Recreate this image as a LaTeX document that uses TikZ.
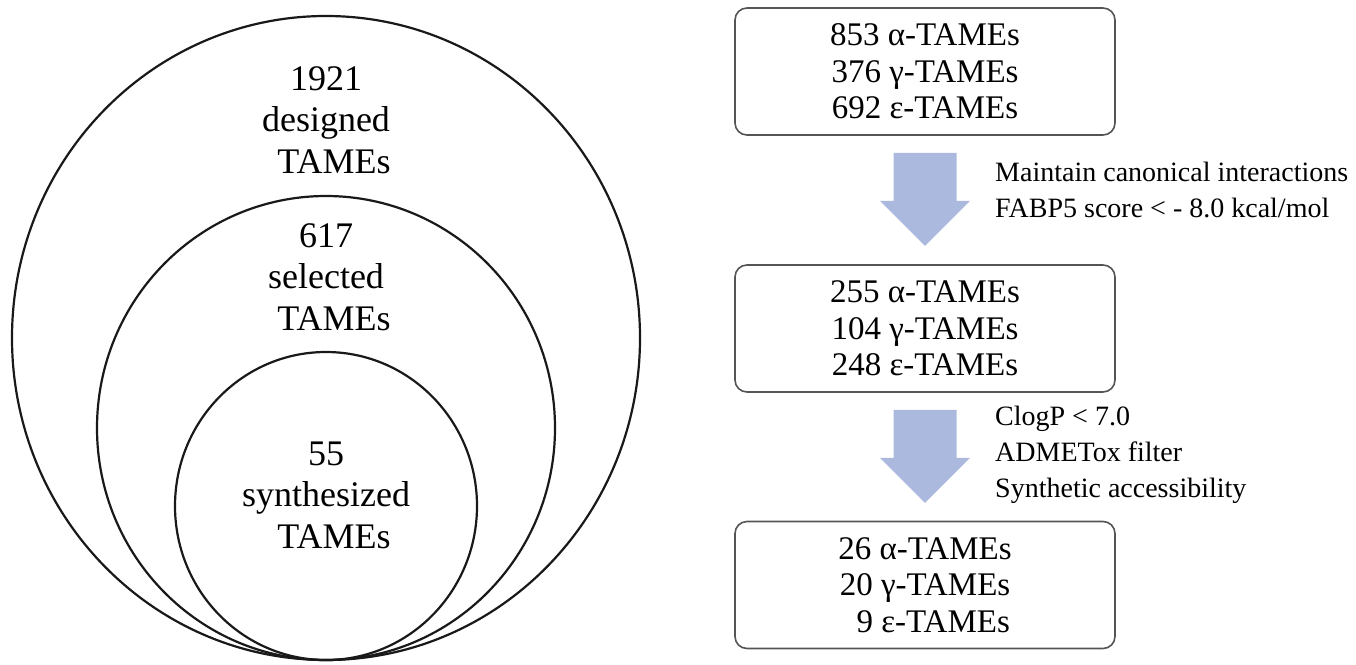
\documentclass[tikz,border=0pt]{standalone}
\usepackage{fontspec}
\setmainfont{Liberation Serif}
\usetikzlibrary{calc}
\definecolor{arrowblue}{RGB}{172,185,222}
\definecolor{boxline}{RGB}{85,85,85}
\begin{document}
\begin{tikzpicture}[x=1pt,y=-1pt,
  ring/.style={line width=2.2pt, draw=black!90},
  ctext/.style={align=center, font=\fontsize{36}{41.5}\selectfont, inner sep=0pt},
  stagebox/.style={draw=boxline, line width=1.6pt, rounded corners=12pt,
    minimum width=380pt, minimum height=127pt, align=center,
    font=\fontsize{33}{36.5}\selectfont, inner sep=0pt},
  sidetext/.style={align=left, anchor=north west, inner sep=0pt,
    font=\fontsize{28}{36}\selectfont},
  bigarrow/.style={fill=arrowblue}]
\useasboundingbox[fill=white] (0,0) rectangle (1356,664);

% nested sets
\draw[ring] (326,338) ellipse [x radius=314pt, y radius=322pt];
\draw[ring] (326,428) ellipse [x radius=229pt, y radius=232pt];
\draw[ring] (326,506) ellipse [x radius=151pt, y radius=154pt];

\node[ctext] (t1) at (326,120) {1921\\designed\\\hspace*{16pt}TAMEs};
\node[ctext] (t2) at (326,277) {617\\selected\\\hspace*{16pt}TAMEs};
\node[ctext] (t3) at (326,495) {55\\synthesized\\\hspace*{16pt}TAMEs};

% funnel
\node[stagebox] (b1) at (925,71.5) {853 α-TAMEs\\376 γ-TAMEs\\692 ε-TAMEs};
\node[stagebox] (b2) at (925,328.5) {255 α-TAMEs\\104 γ-TAMEs\\248 ε-TAMEs};
\node[stagebox] (b3) at (925,585) {26 α-TAMEs\\20 γ-TAMEs\\\phantom{2}9 ε-TAMEs};

\fill[bigarrow] ($(b1.south)+(-31.5,17)$) -- ++(63,0) -- ++(0,48) -- ++(13.5,0)
  -- ++(-45,45) -- ++(-45,-45) -- ++(13.5,0) -- cycle;
\fill[bigarrow] ($(b2.south)+(-31.5,17)$) -- ++(63,0) -- ++(0,48) -- ++(13.5,0)
  -- ++(-45,45) -- ++(-45,-45) -- ++(13.5,0) -- cycle;

\node[sidetext] (s1) at (995,162) {Maintain canonical interactions\\FABP5 score < - 8.0 kcal/mol};
\node[sidetext] (s2) at (995,406) {ClogP < 7.0\\ADMETox filter\\Synthetic accessibility};
\end{tikzpicture}
\end{document}
